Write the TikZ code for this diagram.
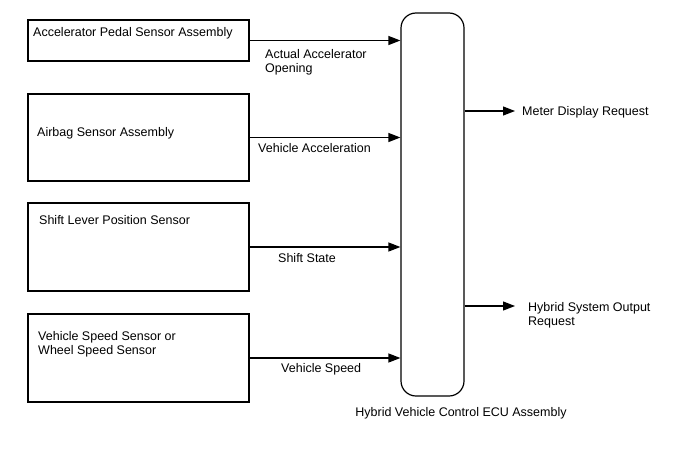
\documentclass[tikz,border=0pt]{standalone}
\usepackage{fontspec}
\setmainfont{Liberation Sans}
\usepackage{tikz}
\usetikzlibrary{positioning,arrows.meta}

\tikzset{
  sensorbox/.style={draw, line width=1.2pt, minimum width=221pt, inner sep=0pt},
  ecubox/.style={draw, line width=1.2pt, rounded corners=15pt, minimum width=63pt, minimum height=383pt, inner sep=0pt},
  arr/.style={line width=1.2pt, -{Triangle[length=12pt, width=9pt]}},
  txt/.style={inner sep=0pt, align=left, anchor=base west}
}

\begin{document}
\begin{tikzpicture}[x=1pt, y=-1pt, font=\fontsize{12.5}{14}\selectfont]
\useasboundingbox (0,0) rectangle (688,463);
% the sensors on the left (y of text = baseline of its last line)
\foreach \n/\ya/\yb/\tx/\ty/\lab in {%
  acc/20/61/33/36/Accelerator Pedal Sensor Assembly,
  air/94/181/37/136/Airbag Sensor Assembly,
  shift/203/291/39/224/Shift Lever Position Sensor,
  spd/314/402/38/354/{Vehicle Speed Sensor or\\Wheel Speed Sensor}}{%
  \node[sensorbox, minimum height={(\yb-\ya)*1pt}] (\n) at (138.5,{(\ya+\yb)/2}) {};
  \node[txt] (\n-name) at (\tx,\ty) {\lab};}
% the ECU
\node[ecubox] (ecu) at (432.5,204.5) {};
\node[anchor=base, inner sep=0pt] (ecu-name) at (461,416) {Hybrid Vehicle Control ECU Assembly};
% signals in
\foreach \n/\tx/\ty/\lab in {%
  acc/265/72/{Actual Accelerator\\Opening},
  air/258/152/Vehicle Acceleration,
  shift/278/262/Shift State,
  spd/281/372/Vehicle Speed}{%
  \draw[arr] (\n.east) -- (\n.east -| ecu.west);
  \node[txt] (\n-sig) at (\tx,\ty) {\lab};}
% signals out
\coordinate (meter) at (515,111);
\coordinate (hybrid) at (515,306);
\draw[arr] (meter -| ecu.east) -- (meter);
\draw[arr] (hybrid -| ecu.east) -- (hybrid);
\node[txt] (meter-sig) at (522,115) {Meter Display Request};
\node[txt] (hybrid-sig) at (528,325) {Hybrid System Output\\Request};
\end{tikzpicture}
\end{document}
